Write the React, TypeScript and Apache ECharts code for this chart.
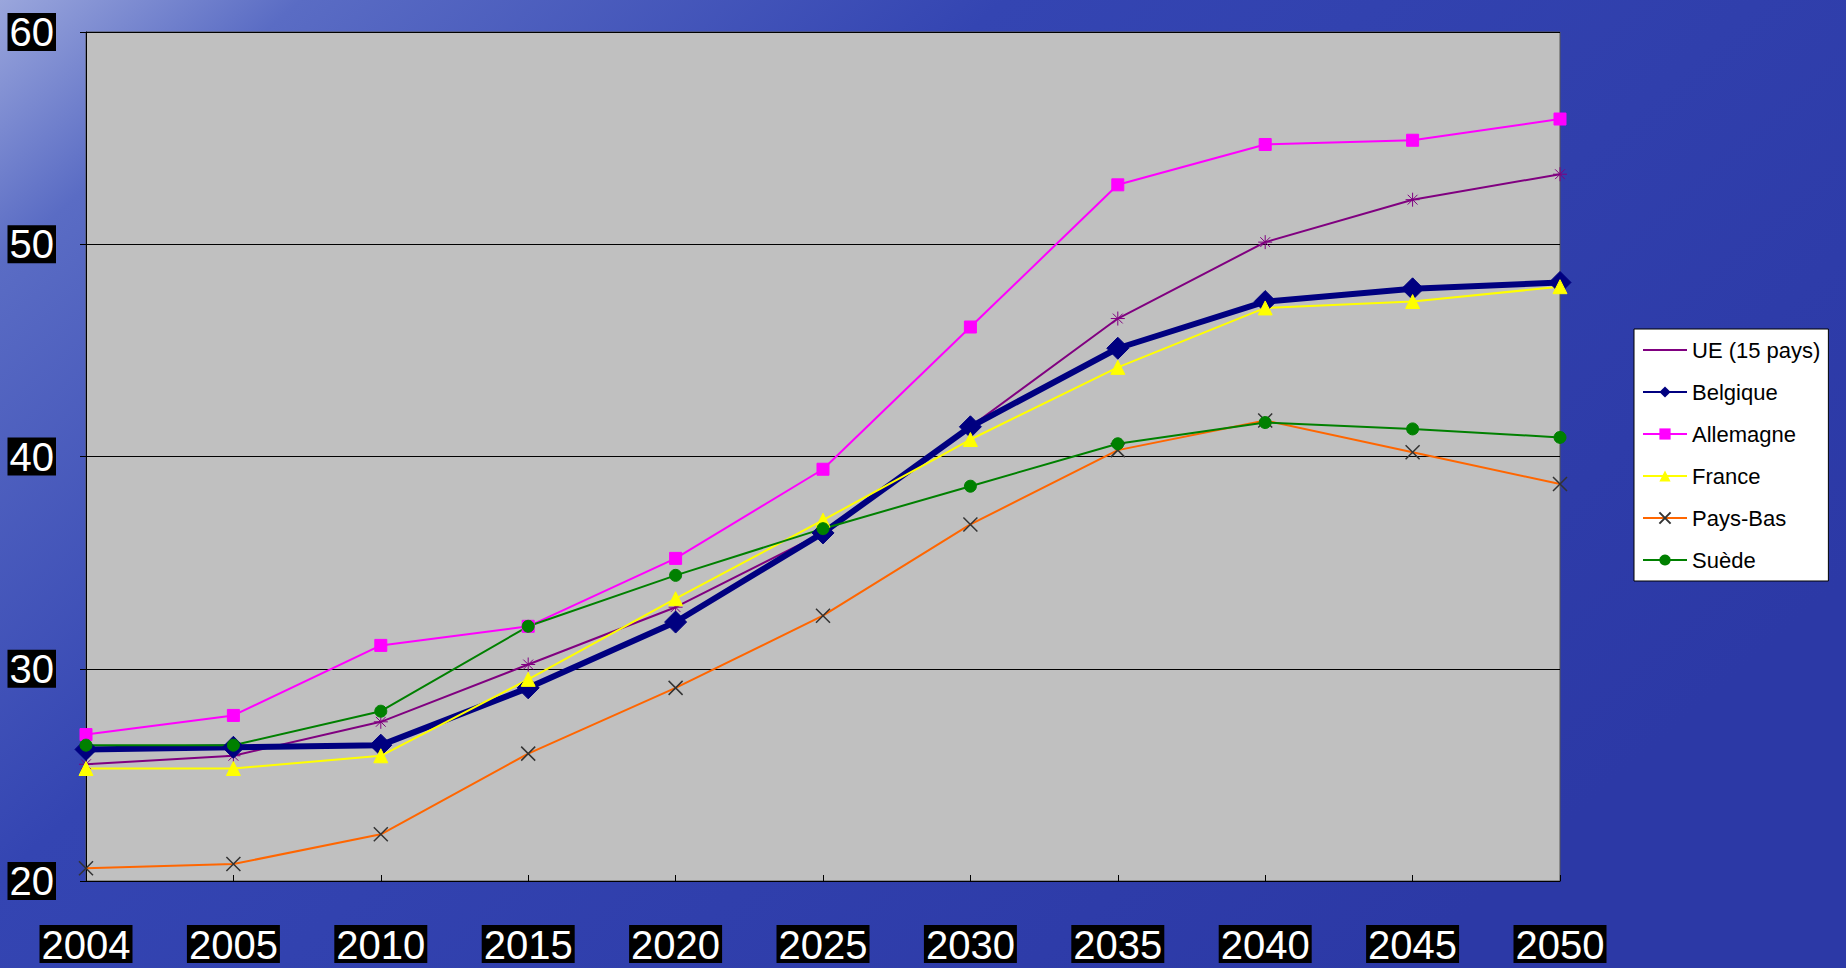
import React, { useEffect, useRef } from "react";
import * as echarts from "echarts";

const years = ["2004", "2005", "2010", "2015", "2020", "2025", "2030", "2035", "2040", "2045", "2050"];
const ue = [25.5, 25.9, 27.5, 30.2, 32.9, 36.4, 41.4, 46.5, 50.1, 52.1, 53.3];
const belgique = [26.2, 26.3, 26.4, 29.1, 32.2, 36.4, 41.4, 45.1, 47.3, 47.9, 48.2];
const allemagne = [26.9, 27.8, 31.1, 32.0, 35.2, 39.4, 46.1, 52.8, 54.7, 54.9, 55.9];
const france = [25.3, 25.3, 25.9, 29.5, 33.3, 37.0, 40.8, 44.2, 47.0, 47.3, 48.0];
const paysBas = [20.6, 20.8, 22.2, 26.0, 29.1, 32.5, 36.8, 40.3, 41.7, 40.2, 38.7];
const suede = [26.4, 26.4, 28.0, 32.0, 34.4, 36.6, 38.6, 40.6, 41.6, 41.3, 40.9];

export default function App() {
  const ref = useRef<HTMLDivElement>(null);
  useEffect(() => {
    const chart = echarts.init(ref.current!, null, { renderer: "svg" });
    const mk = (name: string, data: number[], color: string, symbol: string, size: number, width: number) => ({
      name, type: "line", data, symbol, symbolSize: size,
      lineStyle: { color, width }, itemStyle: { color, borderColor: color },
    });
    const label = {
      color: "#fff", backgroundColor: "#000", fontSize: 40, fontFamily: "Liberation Sans, Arial",
      padding: [0, 2, -2, 2], lineHeight: 40,
    };
    chart.setOption({
      animation: false,
      backgroundColor: new echarts.graphic.LinearGradient(0, 0, 1, 0.6, [
        { offset: 0, color: "#9aa6dc" },
        { offset: 0.12, color: "#5a6cc4" },
        { offset: 0.4, color: "#3445b2" },
        { offset: 1, color: "#2c39a6" },
      ]),
      grid: { left: 86, right: 286, top: 32, bottom: 87, backgroundColor: "#c0c0c0", show: true, borderColor: "#555", borderWidth: 1 },
      legend: {
        orient: "vertical", left: 1634, top: 329, width: 199, backgroundColor: "#fff", borderColor: "#000", borderWidth: 1,
        padding: [10, 8, 10, 8], itemGap: 20, itemWidth: 44, itemHeight: 14,
        textStyle: { fontSize: 22, color: "#000", fontFamily: "Liberation Sans, Arial" },
        data: ["UE (15 pays)", "Belgique", "Allemagne", "France", "Pays-Bas", "Suède"],
      },
      xAxis: {
        type: "category", data: years, boundaryGap: false,
        axisLine: { lineStyle: { color: "#000" } }, axisTick: { show: true, inside: true, length: 6, lineStyle: { color: "#000" } },
        axisLabel: { ...label, margin: 44 },
      },
      yAxis: {
        type: "value", min: 20, max: 60, interval: 10,
        axisLine: { show: true, lineStyle: { color: "#000" } }, axisTick: { show: true, length: 6, lineStyle: { color: "#000" } },
        splitLine: { lineStyle: { color: "#000", width: 1 } },
        axisLabel: { ...label, margin: 30 },
      },
      series: [
        mk("UE (15 pays)", ue, "#800080", "path://M0,-10L0,10M-10,0L10,0M-7,-7L7,7M-7,7L7,-7", 14, 2),
        mk("Belgique", belgique, "#000080", "diamond", 22, 6),
        mk("Allemagne", allemagne, "#ff00ff", "rect", 12, 2),
        mk("France", france, "#ffff00", "triangle", 14, 2),
        { ...mk("Pays-Bas", paysBas, "#ff6600", "path://M-7,-7L7,7M-7,7L7,-7", 14, 2), itemStyle: { color: "#ff6600", borderColor: "#333", borderWidth: 1.5 } },
        mk("Suède", suede, "#008000", "circle", 12, 2),
      ],
    });
    return () => chart.dispose();
  }, []);
  return <div ref={ref} style={{ position: "absolute", left: 0, top: 0, width: 1846, height: 968 }} />;
}
